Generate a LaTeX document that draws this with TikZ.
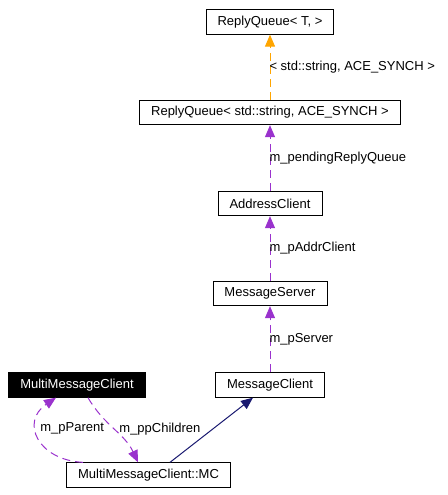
\documentclass[tikz,border=0pt]{standalone}
\usepackage{fontspec}
\setmainfont{Liberation Sans}
\usetikzlibrary{arrows.meta}

\definecolor{usecolor}{HTML}{9A32CD}
\definecolor{tmplcolor}{HTML}{FFA500}
\definecolor{inhcolor}{HTML}{191970}

\tikzset{
  classbox/.style={draw, line width=0.8pt, inner xsep=11.5pt, minimum height=24.5pt,
    font=\fontsize{13}{15}\selectfont},
  curbox/.style={classbox, fill=black, text=white},
  uses/.style={draw=usecolor, line width=1pt, dash pattern=on 8pt off 5pt,
    -{Triangle[length=12pt,width=10pt,fill=usecolor]}},
  inst/.style={uses, draw=tmplcolor, -{Triangle[length=12pt,width=10pt,fill=tmplcolor]}},
  inh/.style={draw=inhcolor, line width=1pt, -{Triangle[length=12pt,width=10pt,fill=inhcolor]}},
  lbl/.style={inner sep=0pt, font=\fontsize{13}{15}\selectfont}
}

\begin{document}
\begin{tikzpicture}[x=1pt,y=-1pt]
  \useasboundingbox (0,0) rectangle (447,495);
  \node[classbox] (rqt)   at (270,22)    {ReplyQueue< T, >};
  \node[classbox] (rqs)   at (270,112.5) {ReplyQueue< std::string, ACE\_SYNCH >};
  \node[classbox] (ac)    at (270,203.5) {AddressClient};
  \node[classbox] (ms)    at (270,293.5) {MessageServer};
  \node[classbox] (mc)    at (270,385)   {MessageClient};
  \node[curbox]   (mmc)   at (77,385)    {MultiMessageClient};
  \node[classbox] (mmcmc) at (148.5,475) {MultiMessageClient::MC};
  \path
    (rqs.north) edge [inst] node [lbl, right, xshift=-1pt] {< std::string, ACE\_SYNCH >} (rqt.south)
    (ac.north)  edge [uses] node [lbl, right, xshift=-1pt] {m\_pendingReplyQueue} (rqs.south)
    (ms.north)  edge [uses] node [lbl, right, xshift=-1pt] {m\_pAddrClient} (ac.south)
    (mc.north)  edge [uses] node [lbl, right, xshift=-1pt] {m\_pServer} (ms.south)
    (mmcmc.north -| 170,0) edge [inh] (mc.south -| 253,0)
    (mmc.south -| 88,0) edge [uses, out=-60, in=115] node [lbl, right, xshift=5pt] {m\_ppChildren} (mmcmc.north -| 138,0);
  \draw[uses] (mmcmc.north -| 83,0) .. controls (38,460) and (20,422) .. (mmc.south -| 56,0)
    node [lbl, pos=0.62, anchor=west, xshift=3pt] {m\_pParent};
\end{tikzpicture}
\end{document}
